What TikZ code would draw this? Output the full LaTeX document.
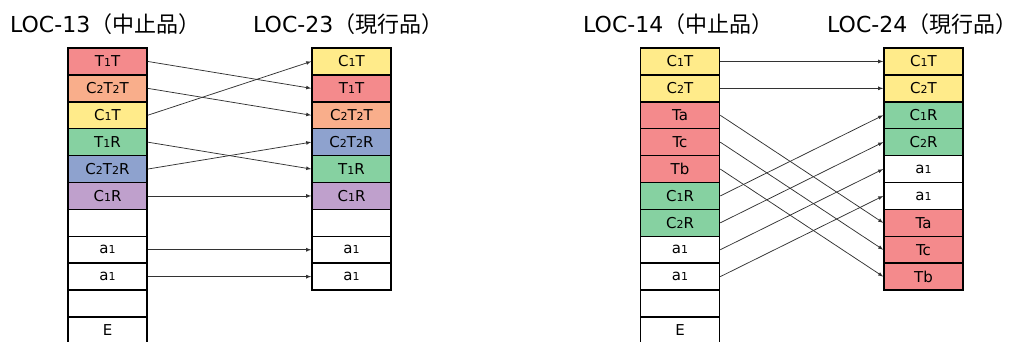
\documentclass[tikz,border=0pt]{standalone}
\usepackage{fontspec}
\setmainfont{DejaVu Sans}
\newfontfamily\jpfont{Noto Sans CJK JP}
\newcommand{\sm}[1]{{\fontsize{11}{11}\selectfont #1}}
\definecolor{cred}{HTML}{F48A8C}
\definecolor{csal}{HTML}{F9AE8B}
\definecolor{cyel}{HTML}{FFEB8A}
\definecolor{cgrn}{HTML}{86D1A1}
\definecolor{cblu}{HTML}{8EA2CE}
\definecolor{cpur}{HTML}{BFA0CC}
\begin{document}
\begin{tikzpicture}[>=latex,x=1pt,y=-1pt,
	cell/.style={draw,line width=1.5pt,minimum width=79pt,minimum height=26.9pt,inner sep=0pt,font=\fontsize{15}{15}\selectfont},
	link/.style={->,line width=.75pt,draw=black!80},
	title/.style={anchor=base west,inner sep=0pt,font=\fontsize{22}{22}\selectfont}]
	\useasboundingbox (0,0) rectangle (1020,342);

	% titles
	\node[title] (t13) at (10,33) {LOC-13{\jpfont（中止品）}};
	\node[title] (t23) at (253,33) {LOC-23{\jpfont（現行品）}};
	\node[title] (t14) at (583,33) {LOC-14{\jpfont（中止品）}};
	\node[title] (t24) at (827,33) {LOC-24{\jpfont（現行品）}};

	% LOC-13 -> LOC-23
	\begin{scope}
		\foreach \txt/\clr [count=\i] in {T\sm1T/cred, C\sm2T\sm2T/csal, C\sm1T/cyel, T\sm1R/cgrn, C\sm2T\sm2R/cblu, C\sm1R/cpur, /white, a\sm1/white, a\sm1/white, /white, E/white}
			\node[cell,fill=\clr] (a\i) at (107.5,{61.45+26.9*(\i-1)}) {\txt};
		\foreach \txt/\clr [count=\i] in {C\sm1T/cyel, T\sm1T/cred, C\sm2T\sm2T/csal, C\sm2T\sm2R/cblu, T\sm1R/cgrn, C\sm1R/cpur, /white, a\sm1/white, a\sm1/white}
			\node[cell,fill=\clr] (b\i) at (351.5,{61.45+26.9*(\i-1)}) {\txt};
		\foreach \s/\t in {1/2,2/3,3/1,4/5,5/4,6/6,8/8,9/9}
			\draw[link] (a\s.east) -- (b\t.west);
	\end{scope}

	% LOC-14 -> LOC-24
	\begin{scope}
		\foreach \txt/\clr [count=\i] in {C\sm1T/cyel, C\sm2T/cyel, Ta/cred, Tc/cred, Tb/cred, C\sm1R/cgrn, C\sm2R/cgrn, a\sm1/white, a\sm1/white, /white, E/white}
			\node[cell,fill=\clr] (c\i) at (680,{61.45+26.9*(\i-1)}) {\txt};
		\foreach \txt/\clr [count=\i] in {C\sm1T/cyel, C\sm2T/cyel, C\sm1R/cgrn, C\sm2R/cgrn, a\sm1/white, a\sm1/white, Ta/cred, Tc/cred, Tb/cred}
			\node[cell,fill=\clr] (d\i) at (923.5,{61.45+26.9*(\i-1)}) {\txt};
		\foreach \s/\t in {1/1,2/2,3/7,4/8,5/9,6/3,7/4,8/5,9/6}
			\draw[link] (c\s.east) -- (d\t.west);
	\end{scope}
\end{tikzpicture}
\end{document}
